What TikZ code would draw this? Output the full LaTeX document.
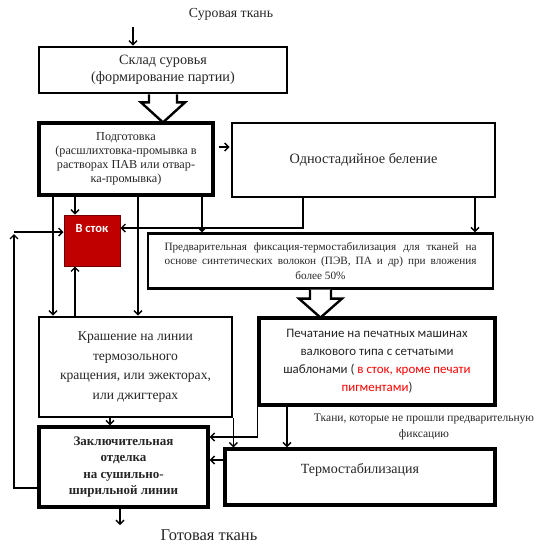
\documentclass[tikz,border=0pt]{standalone}
\usepackage{fontspec}
\setmainfont{Liberation Serif}
\newfontfamily\calib{Carlito}
\usetikzlibrary{arrows.meta,calc}
\definecolor{textc}{HTML}{262626}
\definecolor{stokred}{HTML}{C00000}
\definecolor{stokedge}{HTML}{6E0000}
\definecolor{brightred}{HTML}{FF0000}
\begin{document}
\begin{tikzpicture}[x=1pt,y=-1pt,
  txt/.style={text=textc, inner sep=0pt, align=center},
  box/.style={draw=black, line width=2.8pt, fill=white, rectangle, inner sep=0pt, text=textc, align=center},
  arr/.style={line width=1.4pt, -{Straight Barb[length=4pt,width=8pt,line width=1.4pt]}},
  hollow/.style={draw=black, line width=2.4pt, fill=white, line join=miter}
]
\useasboundingbox (0,0) rectangle (541,558);

% texts outside boxes
\node[txt, font=\fontsize{13.8}{16}\selectfont] (raw) at (231,14) {Суровая ткань};
\node[txt, font=\fontsize{16.5}{18}\selectfont] (done) at (209,535) {Готовая ткань};
\node[txt, font=\fontsize{11.5}{16}\selectfont] (note) at (424,427) {Ткани, которые не прошли предварительную\\фиксацию};

% boxes
\node[box, minimum width=248pt, minimum height=46pt, font=\fontsize{14.2}{17.5}\selectfont] (skl) at (163,70) {Склад суровья\\(формирование партии)};
\node[box, line width=3.4pt, minimum width=174pt, minimum height=72pt, font=\fontsize{12.2}{14}\selectfont] (prep) at (126,159) {Подготовка\\(расшлихтовка-промывка в\\растворах ПАВ или отвар-\\ка-промывка)};
\node[box, minimum width=263pt, minimum height=74pt, font=\fontsize{14.3}{16}\selectfont] (bel) at (363.5,160) {Одностадийное беление};
\node[box, line width=2.2pt, minimum width=345pt, minimum height=55pt, font=\fontsize{11.2}{14.5}\selectfont] (fix) at (320.5,261) {\makebox[312pt][s]{Предварительная фиксация-термостабилизация для тканей на}\\\makebox[312pt][s]{основе синтетических волокон (ПЭВ, ПА и др) при вложения}\\более 50\%};
\node[draw=stokedge, line width=1pt, fill=stokred, minimum width=56pt, minimum height=51pt, inner sep=0pt] (stok) at (92,240.5) {};
\node[inner sep=0pt, text=white, font=\calib\bfseries\fontsize{12.5}{14}\selectfont] (stoklbl) at (92,228) {В сток};
\node[box, minimum width=193pt, minimum height=100pt, font=\fontsize{13.6}{19.5}\selectfont] (dye) at (135.5,367) {Крашение на линии\\термозольного\\кращения, или эжекторах,\\или джигтерах};
\node[box, line width=3.2pt, minimum width=236pt, minimum height=87pt, font=\calib\fontsize{12.9}{18}\selectfont] (print) at (377,361.5) {Печатание на печатных машинах\\валкового типа с сетчатыми\\шаблонами ( \textcolor{brightred}{в сток, кроме печати}\\\textcolor{brightred}{пигментами})};
\node[box, line width=3.2pt, minimum width=169pt, minimum height=80pt, font=\bfseries\fontsize{13}{16.3}\selectfont] (fin) at (123.5,467) {Заключительная\\отделка\\на сушильно-\\ширильной линии};
\node[box, line width=3.2pt, minimum width=270pt, minimum height=56pt] (term) at (360,477) {};
\node[txt, font=\fontsize{14}{16}\selectfont] (termlbl) at (360,470) {Термостабилизация};

% hollow arrows
\draw[hollow] ($(skl.south)+(-14,0)$) -- ++(0,8) -- ++(-8,0) -- ($(skl.south)+(0,28)$) -- ($(skl.south)+(22,8)$) -- ++(-8,0) -- ($(skl.south)+(14,0)$);
\draw[hollow] ($(fix.south)+(-10.5,0)$) -- ++(0,9) -- ++(-11,0) -- ($(fix.south)+(0,28)$) -- ($(fix.south)+(21.5,9)$) -- ++(-11,0) -- ($(fix.south)+(10.5,0)$);

% connectors
\coordinate (rawsrc) at (133,27);
\draw[arr] (rawsrc) -- (rawsrc |- skl.north);
\draw[arr, shorten <=4pt, shorten >=1pt] (prep.east |- 0,147) -- (bel.west |- 0,147);
\draw[arr] (prep.south -| 75,0) -- (stok.north -| 75,0);
\draw[arr] (prep.south -| 53,0) -- (dye.north -| 53,0);
\draw[arr] (dye.north -| 75,0) -- (stok.south -| 75,0);
\draw[arr] (prep.south -| 138,0) -- (dye.north -| 138,0);
\draw[arr] (prep.south -| 202,0) -- (fix.north -| 202,0);
\draw[arr] (bel.south -| 303,0) |- (stok.east |- 0,228);
\draw[arr] (bel.south -| 475,0) -- (fix.north -| 475,0);
\coordinate (loopcorner) at (14,488);
\coordinate (looptop) at (14,234);
\draw[arr] (fin.west |- loopcorner) -- (loopcorner) -- (looptop);
\coordinate (loopstart) at (14,232);
\draw[arr] (loopstart) -- (stok.west |- loopstart);
\draw[arr] (dye.south -| 110,0) -- (fin.north -| 110,0);
\draw[arr] (dye.south east) -- (dye.south east |- term.north);
\draw[arr] (print.south west) |- (fin.east |- 0,437);
\draw[arr] (print.south -| 287,0) -- (term.north -| 287,0);
\draw[arr] (term.west |- 0,460) -- (fin.east |- 0,460);
\coordinate (outend) at (120,525);
\draw[arr] (fin.south -| outend) -- (outend);
\end{tikzpicture}
\end{document}
